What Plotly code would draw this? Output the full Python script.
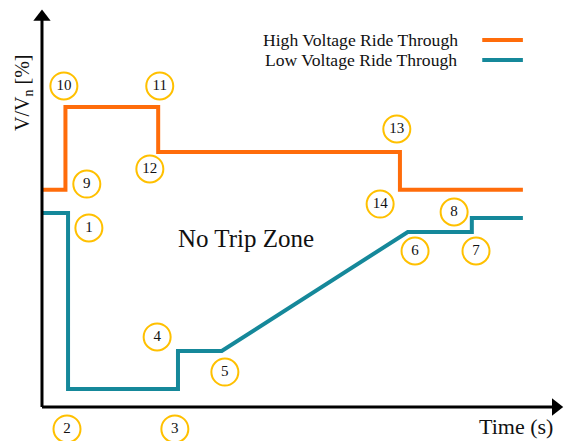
import plotly.graph_objects as go

# ---- data (time in arbitrary units, voltage in % of nominal) ----
hv_t = [0, 0.45, 0.45, 2.23, 2.23, 6.87, 6.87, 9.23]
hv_v = [112, 112, 154.6, 154.6, 131.4, 131.4, 112, 112]

lv_t = [0, 0.50, 0.50, 2.61, 2.61, 3.45, 7.02, 8.25, 8.25, 9.23]
lv_v = [100, 100, 9.3, 9.3, 28.9, 28.9, 90.2, 90.2, 97.4, 97.4]

pt_labels = ["1", "2", "3", "4", "5", "6", "7", "8", "9", "10", "11", "12", "13", "14"]
pt_t = [0.90, 0.48, 2.55, 2.21, 3.51, 7.16, 8.33, 7.91, 0.86, 0.42, 2.26, 2.07, 6.81, 6.49]
pt_v = [92.3, -11.3, -11.3, 36.1, 18.0, 80.4, 80.4, 100.5, 114.9, 165.5, 165.5, 122.7, 143.3, 104.6]

series_names = ["High Voltage Ride Through", "Low Voltage Ride Through"]
ORANGE = "#FF6C0A"
TEAL = "#15889A"
GOLD = "#FFC000"
FONT = "Liberation Serif"

X_RANGE = [-0.806, 10.019]
Y_RANGE = [-17.53, 209.79]
X_TIP = 10.0
Y_TIP = 204.6

fig = go.Figure()
fig.add_trace(go.Scatter(x=hv_t, y=hv_v, mode="lines", name=series_names[0],
                         line=dict(color=ORANGE, width=4), showlegend=False))
fig.add_trace(go.Scatter(x=lv_t, y=lv_v, mode="lines", name=series_names[1],
                         line=dict(color=TEAL, width=4), showlegend=False))
fig.add_trace(go.Scatter(x=pt_t, y=pt_v, mode="markers+text", text=pt_labels,
                         textposition="middle center",
                         textfont=dict(family=FONT, size=15, color="#111"),
                         marker=dict(symbol="circle", size=27, color="white",
                                     line=dict(color=GOLD, width=2)),
                         showlegend=False))
# arrowheads of the two axes
fig.add_trace(go.Scatter(x=[0, 9.86], y=[201.0, 0], mode="markers",
                         marker=dict(symbol=["triangle-up", "triangle-right"], size=15,
                                     color="black", line=dict(width=0)),
                         showlegend=False, hoverinfo="skip"))

annotations = [
    dict(x=3.92, y=87.1, xref="x", yref="y", text="No Trip Zone", showarrow=False,
         font=dict(family=FONT, size=25, color="#111")),
    dict(x=9.10, y=-10.3, xref="x", yref="y", text="Time (s)", showarrow=False,
         font=dict(family=FONT, size=22, color="#111")),
    dict(x=-0.345, y=161.9, xref="x", yref="y", text="V/V<sub>n</sub> [%]",
         xanchor="center", yanchor="middle",
         textangle=-90, showarrow=False, font=dict(family=FONT, size=20, color="#111")),
    dict(x=8.02, y=189.2, xref="x", yref="y", xanchor="right", text=series_names[0],
         showarrow=False, font=dict(family=FONT, size=17.6, color="#111")),
    dict(x=8.00, y=178.9, xref="x", yref="y", xanchor="right", text=series_names[1],
         showarrow=False, font=dict(family=FONT, size=17.6, color="#111")),
]

shapes = [
    # axis lines
    dict(type="line", xref="x", yref="y", x0=0, x1=0, y0=0, y1=200,
         line=dict(color="black", width=3)),
    dict(type="line", xref="x", yref="y", x0=0, x1=9.85, y0=0, y1=0,
         line=dict(color="black", width=3)),
    # legend keys
    dict(type="line", xref="x", yref="y", x0=8.45, x1=9.23, y0=189.2, y1=189.2,
         line=dict(color=ORANGE, width=4)),
    dict(type="line", xref="x", yref="y", x0=8.45, x1=9.23, y0=178.9, y1=178.9,
         line=dict(color=TEAL, width=4)),
]

fig.update_layout(
    width=564, height=441,
    margin=dict(l=0, r=0, t=0, b=0, pad=0),
    paper_bgcolor="white", plot_bgcolor="white",
    xaxis=dict(range=X_RANGE, visible=False, fixedrange=True),
    yaxis=dict(range=Y_RANGE, visible=False, fixedrange=True),
    annotations=annotations, shapes=shapes,
    font=dict(family=FONT),
)

fig.write_html("out.html", config={"displayModeBar": False},
               post_script="document.body.style.margin='0';document.body.style.overflow='hidden';")
